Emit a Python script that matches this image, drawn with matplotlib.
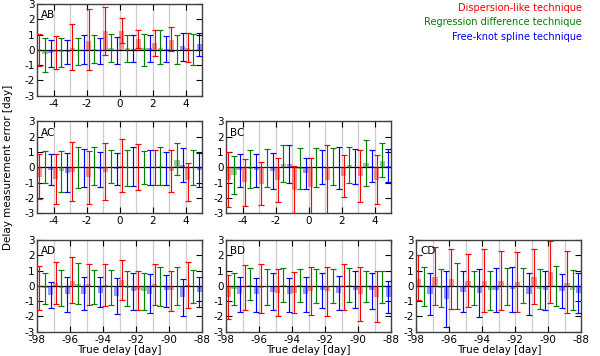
import matplotlib
matplotlib.use("Agg")
import matplotlib.pyplot as plt
import numpy as np

plt.rcParams["axes.unicode_minus"] = False

METHODS = ["Dispersion-like technique", "Regression difference technique",
           "Free-knot spline technique"]
COLOURS = ["red", "green", "blue"]

SHORT_RANGE = (-5, 5)
LONG_RANGE = (-98, -88)

# rows: dispersion, regression difference, free-knot spline; 10 true-delay bins each
AB_BIAS = [[0.0, -0.15, 0.15, 0.6, 1.2, 1.2, 0.7, 0.45, 0.65, 0.15],
           [-0.3, -0.15, -0.1, 0.05, 0.1, 0.1, 0.1, 0.15, 0.0, 0.0],
           [-0.2, -0.15, 0.0, -0.08, -0.05, 0.05, 0.1, 0.05, 0.25, 0.35]]
AB_LO = [[-1.03, -1.25, -1.3, -1.32, -0.35, 0.45, 0.1, -0.42, -0.05, -0.8],
         [-1.43, -1.14, -0.97, -0.88, -0.8, -0.77, -1.05, -0.92, -0.92, -1.0],
         [-1.14, -0.92, -0.92, -0.92, -0.92, -0.81, -0.77, -0.81, -0.7, -0.37]]
AB_HI = [[1.05, 0.88, 1.71, 2.64, 2.77, 2.05, 1.27, 1.32, 1.5, 1.1],
         [0.77, 0.79, 0.79, 0.99, 1.05, 0.99, 1.05, 1.27, 0.95, 1.05],
         [0.66, 0.66, 0.99, 0.77, 0.83, 0.95, 0.95, 0.88, 1.1, 1.1]]

AC_BIAS = [[-0.6, -0.75, -0.3, -0.65, -0.3, 0.1, 0.0, 0.0, -0.25, -0.85],
           [0.0, -0.25, -0.05, 0.05, 0.05, -0.02, 0.0, 0.08, 0.5, 0.0],
           [-0.15, -0.35, -0.03, -0.1, -0.1, 0.05, 0.0, -0.07, 0.15, -0.15]]
AC_LO = [[-2.07, -2.4, -2.2, -2.41, -2.13, -1.63, -1.48, -1.15, -1.63, -2.2],
         [-1.04, -1.59, -1.37, -1.13, -1.04, -1.2, -1.1, -1.15, -0.5, -1.15],
         [-1.15, -1.63, -1.26, -1.26, -1.15, -1.2, -1.15, -1.15, -0.93, -1.26]]
AC_HI = [[0.9, 0.85, 1.63, 1.07, 1.59, 1.87, 1.5, 1.15, 1.15, 0.3],
         [1.07, 1.07, 1.3, 1.3, 1.15, 1.15, 1.07, 1.33, 1.57, 1.15],
         [0.85, 0.91, 1.2, 1.02, 0.93, 1.3, 1.15, 1.0, 1.24, 0.93]]

BC_BIAS = [[-0.8, -0.98, -1.07, -0.83, -1.45, -1.3, -0.8, -0.55, -0.58, -0.8],
           [-0.5, -0.12, -0.03, 0.2, -0.08, -0.01, 0.05, 0.15, 0.25, 0.4],
           [-0.2, -0.2, -0.25, 0.2, -0.4, 0.0, -0.03, 0.05, 0.1, 0.1]]
BC_LO = [[-2.57, -2.5, -2.46, -2.28, -3.0, -3.2, -3.06, -1.91, -2.28, -2.41],
         [-1.76, -1.37, -1.26, -0.93, -1.41, -1.26, -1.15, -1.04, -1.2, -0.61],
         [-1.26, -1.26, -1.41, -1.04, -1.41, -1.1, -1.41, -1.1, -0.93, -0.93]]
BC_HI = [[0.98, 0.54, 0.33, 0.63, 0.1, 0.59, 1.46, 0.8, 1.13, 0.8],
         [0.74, 1.13, 1.2, 1.46, 1.24, 1.24, 1.24, 1.35, 1.78, 1.57],
         [0.85, 0.85, 0.91, 1.46, 0.59, 1.13, 1.35, 1.2, 1.13, 1.2]]

AD_BIAS = [[-0.1, 0.2, 0.35, 0.1, 0.05, 0.4, -0.3, 0.1, -0.3, 0.05],
           [-0.15, -0.12, 0.1, -0.05, -0.1, -0.15, -0.35, -0.05, 0.0, 0.0],
           [-0.6, -0.55, -0.5, -0.45, -0.65, -0.35, -0.5, -0.3, -0.75, -0.4]]
AD_LO = [[-1.57, -1.18, -1.09, -1.24, -1.31, -0.92, -1.57, -1.24, -1.62, -1.46],
         [-1.18, -1.31, -1.18, -1.18, -1.24, -1.31, -1.57, -1.31, -1.24, -1.09],
         [-1.46, -1.68, -1.57, -1.4, -1.83, -1.57, -1.75, -1.35, -1.97, -1.4]]
AD_HI = [[1.33, 1.59, 1.86, 1.42, 1.42, 1.7, 0.98, 1.42, 1.0, 1.55],
         [0.83, 1.05, 1.48, 1.05, 1.05, 0.98, 0.87, 1.22, 1.22, 1.05],
         [0.28, 0.61, 0.61, 0.55, 0.5, 0.87, 0.76, 0.72, 0.44, 0.57]]

BD_BIAS = [[-0.75, -0.1, -0.15, -0.45, -0.45, -0.35, -0.35, -0.1, -0.55, -0.7],
           [-0.2, 0.05, -0.08, 0.05, 0.03, -0.03, -0.03, 0.05, -0.1, -0.05],
           [-0.5, -0.5, -0.4, -0.55, -0.5, -0.3, -0.45, -0.25, -0.3, -0.7]]
BD_LO = [[-2.19, -1.57, -1.75, -1.97, -1.79, -1.9, -1.97, -1.57, -2.28, -2.34],
         [-1.25, -0.92, -1.25, -1.03, -1.03, -1.14, -1.14, -1.03, -1.03, -1.09],
         [-1.68, -1.68, -1.57, -1.68, -1.68, -1.46, -1.57, -1.46, -1.53, -1.79]]
BD_HI = [[0.72, 1.38, 1.42, 1.09, 0.9, 1.22, 1.22, 1.44, 1.22, 0.94],
         [0.87, 1.16, 1.09, 1.16, 1.09, 1.09, 1.09, 1.16, 0.94, 1.0],
         [0.61, 0.5, 0.83, 0.5, 0.61, 0.87, 0.66, 1.0, 0.87, 0.35]]

CD_BIAS = [[0.45, 0.6, 0.45, 0.35, 0.3, 0.35, 0.25, 0.6, 0.9, 0.2],
           [-0.05, -0.15, 0.0, -0.15, -0.3, -0.05, 0.0, -0.2, -0.02, -0.25],
           [-0.5, -0.85, -0.4, -0.45, -0.25, -0.2, -0.5, -0.3, -0.35, -0.45]]
CD_LO = [[-0.92, -1.25, -1.53, -1.36, -1.68, -1.57, -1.68, -1.18, -1.09, -1.79],
         [-1.31, -1.4, -1.53, -1.25, -1.57, -1.25, -1.14, -1.53, -1.31, -1.57],
         [-1.9, -2.67, -1.68, -2.06, -1.68, -1.68, -1.9, -1.57, -1.46, -1.79]]
CD_HI = [[2.03, 2.54, 2.4, 2.1, 2.4, 2.25, 2.19, 2.4, 2.91, 2.25],
         [1.22, 1.09, 1.49, 0.94, 0.94, 1.16, 1.16, 1.09, 1.27, 1.05],
         [0.83, 1.0, 0.94, 1.09, 1.16, 1.22, 0.87, 1.0, 0.79, 0.87]]

# name, row, col, x range, bias, lower end, upper end
PANELS = [
    ("AB", 0, 0, SHORT_RANGE, AB_BIAS, AB_LO, AB_HI),
    ("AC", 1, 0, SHORT_RANGE, AC_BIAS, AC_LO, AC_HI),
    ("BC", 1, 1, SHORT_RANGE, BC_BIAS, BC_LO, BC_HI),
    ("AD", 2, 0, LONG_RANGE, AD_BIAS, AD_LO, AD_HI),
    ("BD", 2, 1, LONG_RANGE, BD_BIAS, BD_LO, BD_HI),
    ("CD", 2, 2, LONG_RANGE, CD_BIAS, CD_LO, CD_HI),
]

COL_LEFT = [0.062, 0.377, 0.694]
ROW_BOTTOM = [0.731, 0.401, 0.068]
AX_W, AX_H = 0.275, 0.258
OFFSETS = [-0.38, -0.03, 0.32]  # position of each technique inside a bin
FS = 7.5


def draw_panel(ax, name, xrange, bias, lo, hi):
    x0, x1 = xrange
    nbins = len(bias[0])
    edges = np.linspace(x0, x1, nbins + 1)
    centers = 0.5 * (edges[:-1] + edges[1:])
    binw = edges[1] - edges[0]

    for e in edges[1:-1]:
        ax.axvline(e, color="0.8", lw=0.9, zorder=0)
    ax.axhline(0, color="black", lw=0.9, zorder=1)

    for m, col in enumerate(COLOURS):
        xs = centers + OFFSETS[m] * binw
        b = np.array(bias[m])
        l = np.array(lo[m])
        h = np.array(hi[m])
        ax.bar(xs, b, width=0.32 * binw, color=col, alpha=0.4, lw=0, zorder=2)
        ax.errorbar(xs, b, yerr=[b - l, h - b], fmt="none", ecolor=col,
                    elinewidth=0.85, capsize=2.2, capthick=0.85, zorder=3)

    ax.set_xlim(x0, x1)
    ax.set_ylim(-3, 3)
    ax.set_yticks(range(-3, 4))
    ax.set_xticks(np.arange(x0 + 1 if x0 % 2 else x0, x1 + 0.1, 2))
    ax.tick_params(direction="in", top=True, right=True, length=4,
                   width=0.8, labelsize=FS, pad=2)
    for sp in ax.spines.values():
        sp.set_color("0.25")
        sp.set_linewidth(1.0)
    ax.text(0.025, 0.875, name, transform=ax.transAxes, ha="left",
            va="center", fontsize=FS)


fig = plt.figure(figsize=(6.0, 3.56), dpi=100)
for name, row, col, xr, bias, lo, hi in PANELS:
    ax = fig.add_axes([COL_LEFT[col], ROW_BOTTOM[row], AX_W, AX_H])
    draw_panel(ax, name, xr, bias, lo, hi)
    if row == 2:
        ax.set_xlabel("True delay [day]", fontsize=FS, labelpad=0)

fig.text(0.014, 0.53, "Delay measurement error [day]", rotation=90,
         ha="center", va="center", fontsize=FS)

for i, (label, col) in enumerate(zip(METHODS, COLOURS)):
    fig.text(0.97, 0.977 - i * 0.04, label, color=col, ha="right",
             va="center", fontsize=7)

fig.savefig("out.png", dpi=100)
plt.close(fig)
